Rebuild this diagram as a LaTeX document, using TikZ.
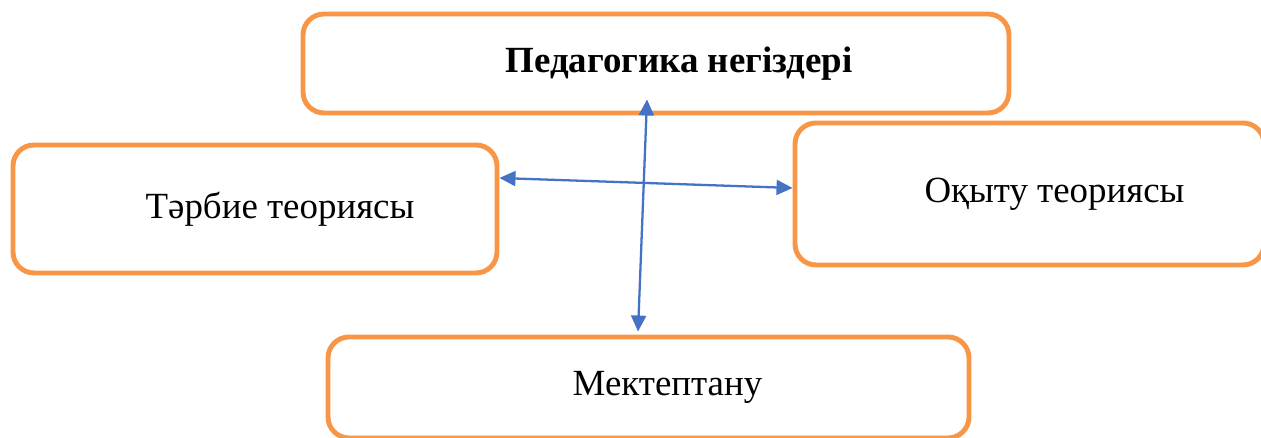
\documentclass[tikz,border=0pt]{standalone}
\usepackage{fontspec}
\setmainfont{Liberation Serif}
\usepackage{xcolor}
\usepackage{tikz}
\usetikzlibrary{positioning,arrows.meta}

\definecolor{boxorange}{RGB}{247,150,70}
\definecolor{linkblue}{RGB}{68,114,196}

\begin{document}
\begin{tikzpicture}[
    topic/.style={draw=boxorange, line width=2.8pt, rounded corners=0.42cm, fill=white,
        inner sep=0pt, font=\fontsize{21}{25}\selectfont},
    link/.style={linkblue, line width=1.3pt, {Triangle[length=0.32cm, width=0.3cm]}-{Triangle[length=0.32cm, width=0.3cm]}}
]
\useasboundingbox (0,0) rectangle (25.22,8.76);

\node[topic, minimum width=14.12cm, minimum height=1.98cm] (pedagogy) at (13.12,7.49)
    {\hspace*{0.92cm}\textbf{Педагогика негіздері}};
\node[topic, minimum width=9.68cm, minimum height=2.56cm] (upbringing) at (5.10,4.58)
    {\hspace*{1.0cm}Тәрбие теориясы};
\node[topic, minimum width=9.38cm, minimum height=2.84cm] (teaching) at (20.59,4.88)
    {\hspace*{1.0cm}Оқыту теориясы};
\node[topic, minimum width=12.82cm, minimum height=2.02cm] (school) at (12.97,1.01)
    {\hspace*{0.76cm}Мектептану};

\draw[link] ([xshift=-0.18cm, yshift=0.32cm]pedagogy.south) -- ([xshift=-0.21cm, yshift=0.06cm]school.north);
\draw[link] ([yshift=0.62cm]upbringing.east) -- ([yshift=0.12cm]teaching.west);

\end{tikzpicture}
\end{document}
